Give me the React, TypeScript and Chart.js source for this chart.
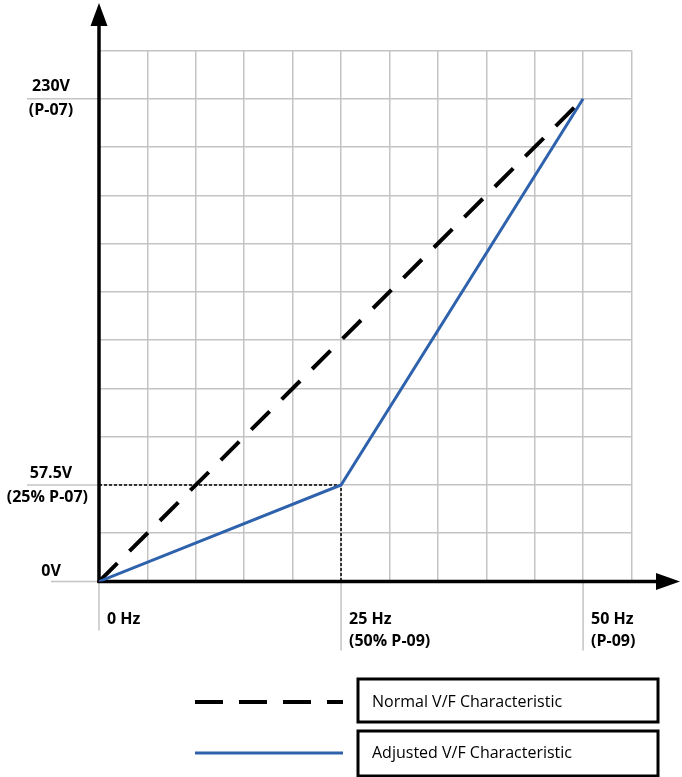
import { useEffect, useRef } from "react";
import { Chart, registerables } from "chart.js";

Chart.register(...registerables);

// frequency in Hz; voltage axis is schematic, so levels are in grid divisions (1 div per gridline)
const freqHz = [0, 25, 50];
const normalVF = [0, 5, 10];
const adjustedVF = [0, 2, 10];
const guideFreq = [0, 25, 25];
const guideLevel = [2, 2, 0];

const freqTickLabels = [["0 Hz"], ["25 Hz", "(50% P-09)"], ["50 Hz", "(P-09)"]];
const voltTickLevels = [0, 2, 10];
const voltTickLabels = [["0V"], ["57.5V", "(25% P-07)"], ["230V", "(P-07)"]];

const seriesNames = ["Adjusted V/F Characteristic", "Normal V/F Characteristic"];

const FONT = '"Open Sans", "DejaVu Sans", sans-serif';
const GRID = "#c4c4c4";
const BLUE = "#2e62ad";

const vfDecor = {
  id: "vfDecor",
  beforeDatasetsDraw(chart: any) {
    const { ctx } = chart;
    const xs = chart.scales.x;
    const ys = chart.scales.y;
    const x0 = xs.getPixelForValue(0);
    const y0 = ys.getPixelForValue(0);
    const seg = (a: number, b: number, c: number, d: number) => {
      ctx.beginPath();
      ctx.moveTo(a, b);
      ctx.lineTo(c, d);
      ctx.stroke();
    };
    ctx.save();
    // tick extensions outside the grid
    ctx.strokeStyle = GRID;
    ctx.lineWidth = 1.5;
    voltTickLevels.forEach((v) => {
      const py = ys.getPixelForValue(v);
      seg(v === 0 ? x0 - 48 : x0 - 72, py, x0, py);
    });
    freqHz.forEach((f) => {
      const px = xs.getPixelForValue(f);
      seg(px, y0, px, f === 0 ? y0 + 49 : y0 + 69);
    });
    // axes with arrows
    ctx.strokeStyle = "#000";
    ctx.fillStyle = "#000";
    ctx.lineWidth = 3.5;
    seg(x0, y0 + 1.5, x0, 24);
    seg(x0 - 1.5, y0, 658, y0);
    ctx.beginPath();
    ctx.moveTo(x0, 3);
    ctx.lineTo(x0 - 8.5, 26);
    ctx.lineTo(x0 + 8.5, 26);
    ctx.closePath();
    ctx.fill();
    ctx.beginPath();
    ctx.moveTo(680, y0);
    ctx.lineTo(656, y0 - 8.5);
    ctx.lineTo(656, y0 + 8.5);
    ctx.closePath();
    ctx.fill();
    ctx.restore();
  },
  afterDraw(chart: any) {
    const { ctx } = chart;
    const xs = chart.scales.x;
    const ys = chart.scales.y;
    const x0 = xs.getPixelForValue(0);
    const y0 = ys.getPixelForValue(0);
    ctx.save();
    ctx.fillStyle = "#000";
    ctx.font = `bold 16px ${FONT}`;
    ctx.textBaseline = "middle";

    // voltage labels
    ctx.textAlign = "center";
    voltTickLevels.forEach((v, i) => {
      const py = ys.getPixelForValue(v);
      const lines = voltTickLabels[i];
      const offs = lines.length === 1 ? [-10] : [-12, 12];
      lines.forEach((t, k) => {
        const w = ctx.measureText(t).width;
        const cx = Math.min(x0 - 48, x0 - 11 - w / 2);
        ctx.fillText(t, cx, py + offs[k]);
      });
    });

    // frequency labels
    ctx.textAlign = "left";
    freqHz.forEach((f, i) => {
      const px = xs.getPixelForValue(f);
      freqTickLabels[i].forEach((t, k) => {
        ctx.fillText(t, px + 8, y0 + 38 + k * 22);
      });
    });

    // legend
    const rows = [
      { ds: 1, cy: 702, top: 679, h: 43 },
      { ds: 0, cy: 753, top: 731, h: 45 },
    ];
    ctx.font = `16px ${FONT}`;
    rows.forEach((r) => {
      const ds = chart.data.datasets[r.ds];
      ctx.strokeStyle = ds.borderColor;
      ctx.lineWidth = ds.borderWidth;
      ctx.setLineDash(ds.borderDash ? [28, 16] : []);
      ctx.beginPath();
      ctx.moveTo(195, r.cy);
      ctx.lineTo(343, r.cy);
      ctx.stroke();
      ctx.setLineDash([]);
      ctx.strokeStyle = "#000";
      ctx.lineWidth = 3;
      ctx.strokeRect(358, r.top, 300, r.h);
      ctx.fillStyle = "#000";
      ctx.fillText(ds.label, 372, r.cy);
    });
    ctx.restore();
  },
};

function VFChart() {
  const canvasRef = useRef<HTMLCanvasElement | null>(null);

  useEffect(() => {
    if (!canvasRef.current) return;
    const chart = new Chart(canvasRef.current, {
      type: "line",
      data: {
        datasets: [
          {
            label: seriesNames[0],
            data: freqHz.map((f, i) => ({ x: f, y: adjustedVF[i] })),
            borderColor: BLUE,
            borderWidth: 3,
            pointRadius: 0,
            tension: 0,
          },
          {
            label: seriesNames[1],
            data: freqHz.map((f, i) => ({ x: f, y: normalVF[i] })),
            borderColor: "#000",
            borderWidth: 4,
            borderDash: [26, 17],
            pointRadius: 0,
            tension: 0,
          },
          {
            label: "guide",
            data: guideFreq.map((f, i) => ({ x: f, y: guideLevel[i] })),
            borderColor: "#000",
            borderWidth: 1.5,
            borderDash: [3, 2],
            pointRadius: 0,
            tension: 0,
          },
        ],
      },
      options: {
        animation: false,
        responsive: true,
        maintainAspectRatio: false,
        layout: { padding: { left: 99, top: 50.5, right: 50.5, bottom: 195.5 } },
        plugins: { legend: { display: false }, tooltip: { enabled: false } },
        scales: {
          x: {
            type: "linear",
            min: 0,
            max: 55,
            ticks: { display: false, stepSize: 5 },
            grid: { color: GRID, lineWidth: 1.5, drawTicks: false },
            border: { display: false },
            afterFit: (s: any) => {
              s.height = 0;
            },
          },
          y: {
            type: "linear",
            min: 0,
            max: 11,
            ticks: { display: false, stepSize: 1 },
            grid: { color: GRID, lineWidth: 1.5, drawTicks: false },
            border: { display: false },
            afterFit: (s: any) => {
              s.width = 0;
            },
          },
        },
      },
      plugins: [vfDecor],
    });
    return () => chart.destroy();
  }, []);

  return (
    <div style={{ position: "absolute", left: 0, top: 0, width: 682, height: 777, background: "#fff" }}>
      <canvas ref={canvasRef} />
    </div>
  );
}

export default function App() {
  return <VFChart />;
}
